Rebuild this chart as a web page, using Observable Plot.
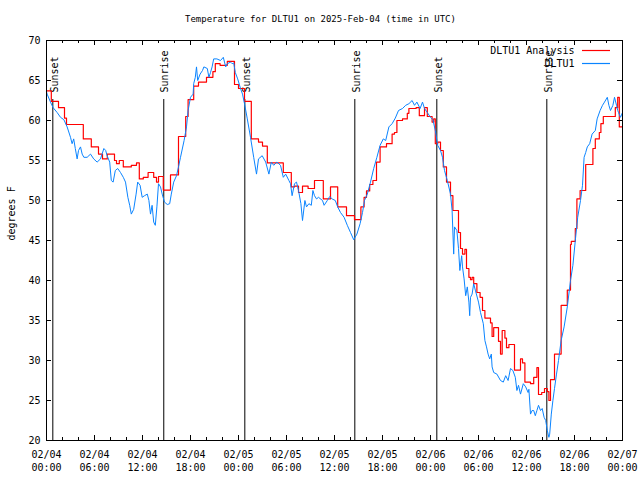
<!DOCTYPE html>
<html><head><meta charset="utf-8">
<script src="https://cdn.jsdelivr.net/npm/d3@7"></script>
<script src="https://cdn.jsdelivr.net/npm/@observablehq/plot@0.6"></script>
<style>body{margin:0;background:#fff}</style>
</head><body><div id="chart"></div>
<script>
const BASE = Date.UTC(2025, 1, 4, 0, 0);
const title = "Temperature for DLTU1 on 2025-Feb-04 (time in UTC)";
const yLabel = "degrees F";
const seriesNames = ["DLTU1 Analysis", "DLTU1"];
const seriesColors = ["#ff0000", "#0a84ff"];

// Analysis (hourly-ish steps): hours since 02/04 00:00 UTC, degrees F
const analysisHours = [0.0,0.6,1.5,2.25,2.5,4.6,5.6,6.5,7.0,7.6,8.5,8.75,9.1,9.6,10.6,11.25,11.6,12.1,12.7,13.4,13.75,14.0,14.6,15.5,16.5,17.4,17.7,18.4,19.0,20.0,20.8,21.1,21.7,22.6,23.5,24.0,24.75,25.6,26.5,27.0,27.6,29.6,30.6,31.0,31.5,32.0,32.7,33.5,34.6,35.5,36.4,37.5,38.5,39.3,39.7,40.0,40.4,40.8,41.25,41.7,42.5,43.2,43.5,43.8,44.5,45.1,45.3,46.2,46.6,47.25,47.6,48.2,48.4,48.6,48.9,49.25,49.6,50.0,50.5,50.8,51.5,51.75,52.0,52.3,52.5,52.8,53.0,53.2,53.4,53.8,54.2,54.5,54.8,55.5,55.7,55.9,56.5,56.75,56.96,57.3,57.5,57.8,58.5,59.25,59.5,59.8,60.5,60.9,61.3,61.5,61.9,62.25,62.6,62.8,63.0,63.5,64.33,65.1,65.5,65.6,66.1,66.3,66.7,67.4,68.3,68.6,69.1,69.3,69.6,71.1,71.4,71.6,72.0];
const analysisTemps = [63.7,62.4,61.6,60.3,59.5,57.7,56.7,55.8,55.2,55.8,55.0,54.6,55.0,54.2,54.4,54.7,52.7,52.9,53.5,52.9,52.3,53.0,51.3,53.2,58.0,60.5,62.6,64.3,64.8,65.4,66.1,67.1,66.9,67.4,64.5,64.0,62.4,57.7,57.3,56.8,54.7,53.5,51.7,51.8,51.0,51.8,51.5,52.5,50.2,51.7,49.2,48.1,47.6,49.2,50.4,51.2,52.0,52.5,54.8,56.7,57.1,58.3,58.5,60.0,60.2,60.9,61.5,61.6,60.6,61.6,60.5,59.8,60.2,57.1,57.3,56.25,54.2,52.3,50.6,48.75,46.0,44.0,43.3,43.9,41.5,40.4,40.1,40.4,39.6,38.5,37.9,36.25,35.3,34.7,33.0,34.1,32.4,30.8,33.75,32.8,31.6,32.0,28.8,30.2,29.7,27.3,27.1,27.9,29.1,25.75,26.0,26.5,26.1,25.0,27.6,30.8,36.9,38.8,44.5,44.9,46.5,50.2,51.25,54.5,56.5,57.7,58.5,59.6,60.5,61.6,62.9,59.2,59.2];

// Observations
const obsHours = [0.0,0.08,0.5,0.83,1.33,1.75,2.17,2.58,3.0,3.2,3.4,3.6,3.83,4.0,4.25,4.46,4.67,5.08,5.5,5.9,6.33,6.75,7.17,7.4,7.58,7.9,8.1,8.33,8.6,8.9,9.25,9.6,9.875,10.17,10.4,10.6,10.9,11.2,11.4,11.7,11.96,12.25,12.6,12.8,13.0,13.2,13.4,13.6,13.8,14.0,14.25,14.46,14.75,15.1,15.4,15.6,15.9,16.25,16.5,16.75,17.2,17.5,17.7,18.0,18.33,18.4,18.6,18.75,18.9,19.2,19.5,19.67,20.1,20.3,20.5,20.7,20.9,21.3,21.75,22.1,22.4,22.6,23.0,23.2,23.4,23.6,23.9,24.25,24.5,24.75,25.1,25.5,25.9,26.25,26.5,26.96,27.4,27.8,28.1,28.4,28.8,29.25,29.6,29.9,30.3,30.5,30.7,31.0,31.25,31.5,31.8,32.0,32.3,32.5,32.8,33.1,33.3,33.5,33.75,34.0,34.5,34.7,35.1,35.4,35.7,36.1,36.4,36.75,37.2,37.6,38.0,38.4,38.8,39.2,39.5,39.75,40.1,40.5,40.9,41.3,41.7,42.1,42.4,42.8,43.2,43.6,44.0,44.5,44.9,45.3,45.7,46.0,46.3,46.7,47.0,47.25,47.6,48.0,48.3,48.6,48.9,49.25,49.5,49.75,50.1,50.5,50.7,50.9,51.0,51.3,51.5,51.67,51.9,52.0,52.2,52.4,52.6,52.8,52.9,53.0,53.2,53.4,53.6,54.0,54.25,54.6,54.8,55.0,55.2,55.4,55.6,55.7,55.9,56.3,56.75,57.1,57.4,57.7,58.0,58.3,58.6,58.8,59.0,59.25,59.6,59.9,60.2,60.3,60.5,60.7,60.9,61.1,61.3,61.5,61.75,61.96,62.2,62.4,62.6,62.8,62.9,63.1,63.3,63.5,63.75,64.0,64.33,64.7,65.1,65.5,65.8,66.1,66.4,66.75,67.0,67.2,67.4,67.6,67.9,68.2,68.6,68.83,69.2,69.5,69.75,70.1,70.3,70.5,70.8,71.0,71.25,71.4,71.5,71.75,72.0];
const obsTemps = [63.6,63.3,62.3,61.6,61.0,60.4,60.1,59.2,57.9,57.1,57.7,56.5,55.2,56.25,56.7,55.8,55.4,55.4,55.8,55.2,54.8,55.2,56.5,56.25,55.6,54.8,52.5,52.3,53.75,54.0,53.5,52.9,52.3,50.4,49.4,48.3,48.9,50.8,52.3,51.9,50.4,50.6,50.8,50.0,48.3,49.4,47.3,46.9,49.2,52.1,51.7,50.8,49.8,49.5,49.6,50.8,52.3,53.1,54.2,55.4,57.5,59.2,61.25,62.9,63.3,64.6,65.4,66.7,65.0,65.8,66.25,66.7,66.5,65.4,66.0,66.7,67.7,67.7,67.5,67.9,66.7,67.1,67.3,67.1,67.2,66.0,65.2,64.0,63.3,62.1,60.2,57.9,55.4,53.3,55.2,55.6,54.8,53.3,54.8,54.4,54.8,54.4,52.9,53.3,52.5,52.1,50.6,52.1,52.3,51.25,49.6,47.5,50.0,49.2,49.6,49.4,51.25,50.6,50.2,50.4,50.0,49.4,50.0,50.5,50.2,50.0,49.2,48.5,47.9,46.9,46.0,45.1,45.8,47.1,48.5,50.0,50.8,52.3,54.0,55.4,56.9,57.7,57.5,59.2,59.6,60.3,61.25,61.5,61.9,62.1,62.5,61.9,62.3,61.5,62.3,61.5,61.0,60.4,60.1,58.75,56.9,56.25,55.4,53.75,52.5,50.8,48.75,43.3,46.7,46.25,44.0,41.25,43.1,41.7,40.2,38.1,39.2,37.3,35.6,37.9,38.3,39.6,38.8,37.3,36.0,34.6,32.5,31.7,30.8,30.2,30.8,29.2,28.5,28.3,27.5,27.3,28.1,27.5,29.0,28.75,27.9,26.25,26.9,25.8,27.1,26.7,26.0,26.4,23.3,23.75,23.75,23.1,23.75,24.4,23.75,24.0,22.9,22.5,21.25,20.4,20.8,23.3,25.0,26.5,28.3,30.0,32.5,34.2,36.7,40.0,41.9,45.0,47.9,50.0,51.9,55.4,56.0,56.7,57.1,58.3,58.75,60.2,61.25,61.9,62.3,62.9,61.9,61.25,61.9,62.9,61.9,61.25,61.0,60.4,61.0];

const eventHours = [0.79, 14.66, 24.79, 38.54, 48.79, 62.54];
const eventLabels = ["Sunset", "Sunrise", "Sunset", "Sunrise", "Sunset", "Sunrise"];
const yTicks = [20, 25, 30, 35, 40, 45, 50, 55, 60, 65, 70];
const majorTickHours = [0, 6, 12, 18, 24, 30, 36, 42, 48, 54, 60, 66, 72];
const minorTickHours = d3.range(0, 73, 2);

const toDate = h => new Date(BASE + h * 3600e3);
const analysis = analysisHours.map((h, i) => ({date: toDate(h), temp: analysisTemps[i]}));
const obs = obsHours.map((h, i) => ({date: toDate(h), temp: obsTemps[i]}));
const events = eventHours.map((h, i) => ({date: toDate(h), label: eventLabels[i]}));
const majorDates = majorTickHours.map(toDate);
const minorDates = minorTickHours.map(toDate);
const fmt = d3.utcFormat("%m/%d\n%H:%M");

const W = 640, H = 480, mT = 40, mL = 46, mR = 18, mB = 40;
const plotH = H - mT - mB, plotW = W - mL - mR;

const chart = Plot.plot({
  width: W, height: H,
  marginTop: mT, marginLeft: mL, marginRight: mR, marginBottom: mB,
  style: {fontFamily: "DejaVu Sans Mono", fontSize: "10px", color: "black", background: "white"},
  x: {type: "utc", domain: [toDate(0), toDate(72)], label: null},
  y: {domain: [20, 70], label: null},
  marks: [
    Plot.ruleX(events, {x: "date", insetTop: 59, stroke: "black"}),
    Plot.text(events, {x: "date", text: "label", rotate: -90, frameAnchor: "top", dy: 52, dx: 1.5, textAnchor: "start", lineAnchor: "middle", fill: "black"}),
    Plot.line(analysis, {x: "date", y: "temp", stroke: seriesColors[0], strokeWidth: 1.2, curve: "step-after"}),
    Plot.line(obs, {x: "date", y: "temp", stroke: seriesColors[1], strokeWidth: 1}),
    Plot.ruleX(majorDates, {x: d => d, insetTop: plotH - 5, stroke: "black"}),
    Plot.ruleX(majorDates, {x: d => d, insetBottom: plotH - 5, stroke: "black"}),
    Plot.ruleX(minorDates, {x: d => d, insetTop: plotH - 3, stroke: "black"}),
    Plot.ruleX(minorDates, {x: d => d, insetBottom: plotH - 3, stroke: "black"}),
    Plot.ruleY(yTicks, {y: d => d, insetRight: plotW - 5, stroke: "black"}),
    Plot.ruleY(yTicks, {y: d => d, insetLeft: plotW - 5, stroke: "black"}),
    Plot.axisX(majorDates, {tickSize: 0, tickPadding: 8, tickFormat: fmt, lineHeight: 1.3, fill: "black"}),
    Plot.axisY(yTicks, {tickSize: 0, tickPadding: 6, fill: "black"}),
    Plot.frame({stroke: "black"}),
    Plot.text([title], {frameAnchor: "top", dy: -21, dx: -14, fontSize: 9, lineAnchor: "middle", fill: "black"}),
    Plot.text([yLabel], {frameAnchor: "left", dx: -35, rotate: -90, lineAnchor: "middle", fill: "black"}),
    Plot.text(seriesNames, {frameAnchor: "top-right", dx: -48, textAnchor: "end", lineAnchor: "middle", fill: "black", filter: (d, i) => i === 0, dy: 10}),
    Plot.text(seriesNames, {frameAnchor: "top-right", dx: -48, textAnchor: "end", lineAnchor: "middle", fill: "black", filter: (d, i) => i === 1, dy: 23})
  ]
});

// legend swatches
const svg = d3.select(chart);
[0, 1].forEach(i => {
  svg.append("line")
    .attr("x1", W - mR - 40).attr("x2", W - mR - 12)
    .attr("y1", mT + 10.5 + 13 * i).attr("y2", mT + 10.5 + 13 * i)
    .attr("stroke", seriesColors[i]).attr("stroke-width", 1.2);
});
document.getElementById("chart").appendChild(chart);
</script>
</body></html>
